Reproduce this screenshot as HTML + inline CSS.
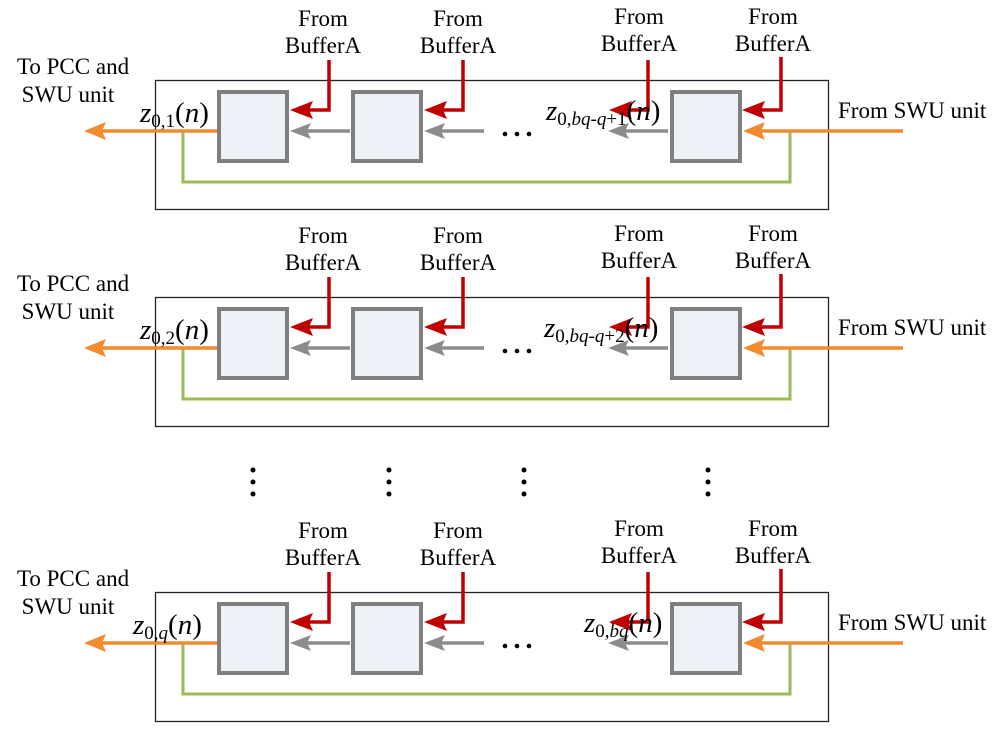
<!DOCTYPE html>
<html><head><meta charset="utf-8"><style>
html,body{margin:0;padding:0;background:#fff;}
svg{display:block;}
text{font-family:"Liberation Serif",serif;fill:#000;}
</style></head><body>
<svg width="1000" height="732" viewBox="0 0 1000 732" xmlns="http://www.w3.org/2000/svg">
<defs>
<g id="panel">
  <rect x="155.5" y="80.5" width="673" height="129" fill="none" stroke="#222" stroke-width="1.3"/>
  <polyline points="183,131 183,182 790,182 790,131" fill="none" stroke="#9bbb59" stroke-width="3"/>
  <rect x="219" y="92" width="68" height="69" fill="#edf0f6" stroke="#7f7f7f" stroke-width="4"/>
  <rect x="353" y="92" width="68" height="69" fill="#edf0f6" stroke="#7f7f7f" stroke-width="4"/>
  <rect x="672" y="92" width="68" height="69" fill="#edf0f6" stroke="#7f7f7f" stroke-width="4"/>
  <line x1="217" y1="131" x2="100" y2="131" stroke="#f28a2e" stroke-width="3.5"/>
  <polygon points="84,131 106,122 102,131 106,140" fill="#f28a2e"/>
  <line x1="903" y1="131" x2="758" y2="131" stroke="#f28a2e" stroke-width="3.5"/>
  <polygon points="743,131 765,122 761,131 765,140" fill="#f28a2e"/>
  <line x1="350" y1="131" x2="305" y2="131" stroke="#8c8c8c" stroke-width="3.5"/>
  <polygon points="290,131 311,123 307,131 311,139" fill="#8c8c8c"/>
  <line x1="484" y1="131" x2="439" y2="131" stroke="#8c8c8c" stroke-width="3.5"/>
  <polygon points="424,131 445,123 441,131 445,139" fill="#8c8c8c"/>
  <line x1="668" y1="131" x2="623" y2="131" stroke="#8c8c8c" stroke-width="3.5"/>
  <polygon points="608,131 629,123 625,131 629,139" fill="#8c8c8c"/>
  <polyline points="329,60 329,110 305,110" fill="none" stroke="#c00000" stroke-width="3.5"/>
  <polygon points="290,110 313,101 309,110 313,119" fill="#c00000"/>
  <polyline points="463,60 463,110 439,110" fill="none" stroke="#c00000" stroke-width="3.5"/>
  <polygon points="424,110 447,101 443,110 447,119" fill="#c00000"/>
  <polyline points="648,60 648,110 624,110" fill="none" stroke="#c00000" stroke-width="3.5"/>
  <polygon points="609,110 632,101 628,110 632,119" fill="#c00000"/>
  <polyline points="781,57 781,110 757,110" fill="none" stroke="#c00000" stroke-width="3.5"/>
  <polygon points="742,110 765,101 761,110 765,119" fill="#c00000"/>
  <g font-size="23" text-anchor="middle">
    <text x="323" y="26">From</text><text x="323" y="53">BufferA</text>
    <text x="458" y="26">From</text><text x="458" y="53">BufferA</text>
    <text x="639" y="24">From</text><text x="639" y="51">BufferA</text>
    <text x="773" y="24">From</text><text x="773" y="51">BufferA</text>
    <text x="73" y="74">To PCC and</text><text x="68" y="102">SWU unit</text>
  </g>
  <text x="838" y="118" font-size="23">From SWU unit</text>
  <g fill="#000"><circle cx="505" cy="134" r="2.3"/><circle cx="517" cy="134" r="2.3"/><circle cx="529" cy="134" r="2.3"/></g>
</g>
</defs>
<use href="#panel"/>
<use href="#panel" transform="translate(0,217)"/>
<use href="#panel" transform="translate(0,512)"/>
<g font-size="29">
  <text x="140" y="122" font-style="italic">z<tspan font-size="19" font-style="normal" dy="5">0,1</tspan><tspan dy="-5" font-style="normal">(</tspan>n<tspan font-style="normal">)</tspan></text>
  <text x="546" y="120" font-style="italic">z<tspan font-size="19" dy="5"><tspan font-style="normal">0,</tspan>bq-q<tspan font-style="normal">+1</tspan></tspan><tspan dy="-5" font-style="normal">(</tspan>n<tspan font-style="normal">)</tspan></text>
  <text x="140" y="339" font-style="italic">z<tspan font-size="19" font-style="normal" dy="5">0,2</tspan><tspan dy="-5" font-style="normal">(</tspan>n<tspan font-style="normal">)</tspan></text>
  <text x="544" y="337" font-style="italic">z<tspan font-size="19" dy="5"><tspan font-style="normal">0,</tspan>bq-q<tspan font-style="normal">+2</tspan></tspan><tspan dy="-5" font-style="normal">(</tspan>n<tspan font-style="normal">)</tspan></text>
  <text x="133" y="634" font-style="italic">z<tspan font-size="19" dy="5"><tspan font-style="normal">0,</tspan>q</tspan><tspan dy="-5" font-style="normal">(</tspan>n<tspan font-style="normal">)</tspan></text>
  <text x="584" y="632" font-style="italic">z<tspan font-size="19" dy="5"><tspan font-style="normal">0,</tspan>bq</tspan><tspan dy="-5" font-style="normal">(</tspan>n<tspan font-style="normal">)</tspan></text>
</g>
<g fill="#000">
  <circle cx="253" cy="470" r="2.5"/><circle cx="253" cy="482" r="2.5"/><circle cx="253" cy="494" r="2.5"/>
  <circle cx="389" cy="470" r="2.5"/><circle cx="389" cy="482" r="2.5"/><circle cx="389" cy="494" r="2.5"/>
  <circle cx="524" cy="470" r="2.5"/><circle cx="524" cy="482" r="2.5"/><circle cx="524" cy="494" r="2.5"/>
  <circle cx="708" cy="470" r="2.5"/><circle cx="708" cy="482" r="2.5"/><circle cx="708" cy="494" r="2.5"/>
</g>
</svg>
</body></html>
